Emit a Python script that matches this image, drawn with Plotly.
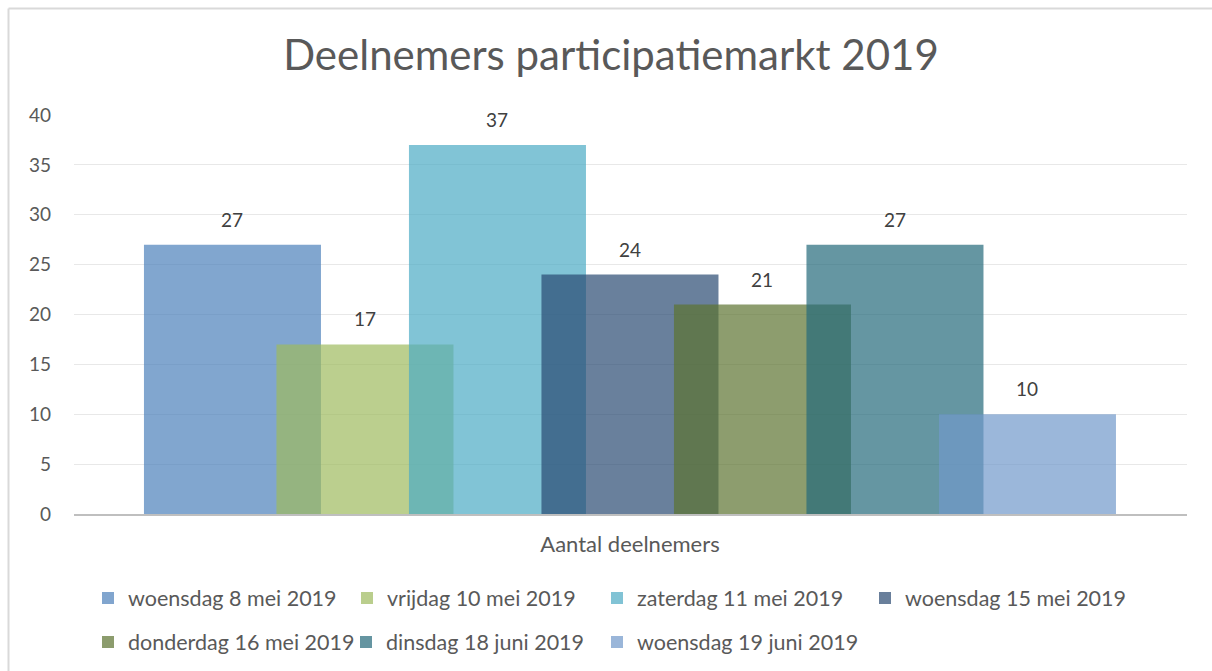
import plotly.graph_objects as go

series_names = [
    "woensdag 8 mei 2019",
    "vrijdag 10 mei 2019",
    "zaterdag 11 mei 2019",
    "woensdag 15 mei 2019",
    "donderdag 16 mei 2019",
    "dinsdag 18 juni 2019",
    "woensdag 19 juni 2019",
]
values = [27, 17, 37, 24, 21, 27, 10]
colors = [
    "rgb(76,128,186)",
    "rgb(158,186,94)",
    "rgb(76,171,196)",
    "rgb(42,74,114)",
    "rgb(92,115,48)",
    "rgb(36,105,122)",
    "rgb(112,152,202)",
]
category = "Aantal deelnemers"
y_ticks = [0, 5, 10, 15, 20, 25, 30, 35, 40]

FONT = "Lato, 'Open Sans', sans-serif"
W, H = 1212, 700
L, T = 74, 115
PLOT_RIGHT, PLOT_BOTTOM = 1187, 514
R, B = W - PLOT_RIGHT, H - PLOT_BOTTOM
PW, PH = PLOT_RIGHT - L, PLOT_BOTTOM - T

# legend placement (page pixels): marker centre x, row centre y
leg_cx = [109, 368, 618, 886, 109, 367, 618]
leg_cy = [598, 598, 598, 598, 642, 642, 642]

fig = go.Figure()
legend_layout = {}
for i, (name, v, c) in enumerate(zip(series_names, values, colors)):
    lname = "legend" if i == 0 else f"legend{i + 1}"
    fig.add_trace(go.Bar(
        x=[i], y=[v], name=name, width=1.336,
        marker=dict(color=c, line=dict(width=0)),
        opacity=0.7,
        legend=lname,
        hoverinfo="y+name",
    ))
    fig.add_annotation(x=i, y=v, text=str(v), showarrow=False,
                       yanchor="bottom", yshift=12,
                       font=dict(family=FONT, size=19, color="#404040"))
    legend_layout[lname] = dict(
        orientation="v",
        x=(leg_cx[i] - 21 - L) / PW, xanchor="left",
        y=(PLOT_BOTTOM - leg_cy[i]) / PH, yanchor="middle",
        font=dict(size=21.5, color="#595959", family=FONT),
        bgcolor="rgba(0,0,0,0)", borderwidth=0)

fig.update_layout(
    width=W, height=H,
    barmode="overlay",
    paper_bgcolor="white", plot_bgcolor="white",
    margin=dict(l=L, r=R, t=T, b=B),
    title=dict(text="Deelnemers participatiemarkt 2019", x=611 / W, xanchor="center",
               y=1 - 55 / H, yanchor="middle",
               font=dict(family=FONT, size=42, color="#595959")),
    font=dict(family=FONT, color="#595959"),
    xaxis=dict(range=[-1.196, 7.204], tickvals=[3], ticktext=[category],
               ticks="", tickfont=dict(size=22, color="#595959"),
               showgrid=False, zeroline=False, showline=True,
               linecolor="#BFBFBF", linewidth=2, ticklabelstandoff=10),
    yaxis=dict(range=[0, 40], tickvals=y_ticks, showgrid=True,
               gridcolor="#E8E8E8", gridwidth=1, zeroline=False,
               showline=False, ticks="", tickfont=dict(size=19, color="#595959"),
               ticklabelstandoff=22),
    showlegend=True,
    shapes=[
        dict(type="line", xref="paper", yref="paper",
             x0=(8.5 - L) / PW, x1=(8.5 - L) / PW, y0=-1, y1=(PLOT_BOTTOM - 8.5) / PH,
             line=dict(color="#D9D9D9", width=2), layer="below"),
        dict(type="line", xref="paper", yref="paper",
             x0=(8.5 - L) / PW, x1=1.3,
             y0=(PLOT_BOTTOM - 8.5) / PH, y1=(PLOT_BOTTOM - 8.5) / PH,
             line=dict(color="#D9D9D9", width=2), layer="below"),
    ],
    **legend_layout,
)
fig.write_html(
    "out.html", config={"displayModeBar": False},
    post_script=(
        "document.documentElement.style.overflow='hidden';"
        "document.body.style.margin='0';document.body.style.overflow='hidden';"
    ),
)
